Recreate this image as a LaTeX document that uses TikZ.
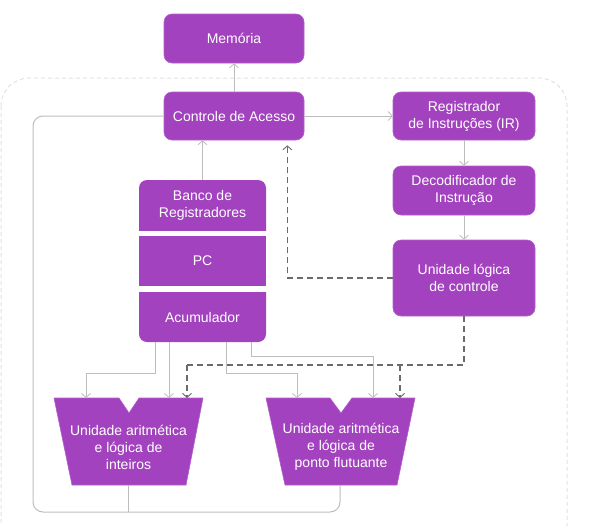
\documentclass[tikz,border=0pt]{standalone}
\usepackage{fontspec}
\setmainfont{Liberation Sans}
\usetikzlibrary{arrows.meta,calc}
\definecolor{boxpurple}{HTML}{A342BE}
\definecolor{boxedge}{HTML}{B25FCB}
\definecolor{gline}{HTML}{BDBDBD}
\definecolor{dline}{HTML}{6A6A6A}
\definecolor{frame}{HTML}{E2E2E2}
\begin{document}
\begin{tikzpicture}[x=1pt,y=-1pt,
  box/.style={draw=boxedge,line width=0.6pt,fill=boxpurple,rounded corners=8pt,text=white,align=center,
    font=\fontsize{14}{17}\selectfont,inner sep=0pt},
  plain/.style={text=white,align=center,font=\fontsize{14}{17}\selectfont,inner sep=0pt},
  gconn/.style={draw=gline,line width=1pt,-{Straight Barb[length=4pt,width=9pt,line width=0.8pt]}},
  gline/.style={draw=gline,line width=1pt},
  dconn/.style={draw=dline,line width=1.2pt,dash pattern=on 6pt off 4pt,-{Straight Barb[length=4pt,width=9pt,line width=0.9pt]}},
  dline/.style={draw=dline,line width=1.2pt,dash pattern=on 6pt off 4pt},
  alushape/.style={fill=boxpurple,draw=boxedge,line width=0.6pt}
]
\useasboundingbox (0,0) rectangle (596,525);
% outer dashed frame
\begin{scope}
\clip (0,0) rectangle (596,525);
\draw[frame,line width=1pt,dash pattern=on 4pt off 3pt,rounded corners=28pt] (1,78) rectangle (567,560);
\end{scope}

% boxes
\node[box,minimum width=140pt,minimum height=49pt] (mem) at (234,38.5) {Memória};
\node[box,minimum width=140pt,minimum height=48pt] (ctrl) at (234,116) {Controle de Acesso};
\node[box,minimum width=142pt,minimum height=48pt] (ir) at (464,116) {Registrador\\de Instruções (IR)};
\node[box,minimum width=142pt,minimum height=49pt] (dec) at (464,190.5) {Decodificador de\\Instrução};
\node[box,minimum width=142pt,minimum height=76pt] (ulc) at (464,278) {Unidade lógica\\de controle};

% register stack
\begin{scope}
\clip (130,170) rectangle (280,230);
\fill[boxpurple,rounded corners=8pt] (139,180) rectangle (266,245);
\end{scope}
\node[plain,minimum width=127pt,minimum height=50pt] (banco) at (202.5,205) {Banco de\\Registradores};
\fill[boxpurple] (139,236) rectangle (266,286);
\node[plain,minimum width=127pt,minimum height=50pt] (pc) at (202.5,261) {PC};
\begin{scope}
\clip (130,292) rectangle (280,350);
\fill[boxpurple,rounded corners=8pt] (139,280) rectangle (266,342);
\end{scope}
\node[plain,minimum width=127pt,minimum height=50pt] (acc) at (202.5,317) {Acumulador};

% ALUs
\fill[alushape] (54,398) -- (119,398) -- (129,413) -- (139,398) -- (203,398) -- (186,485) -- (72,485) -- cycle;
\node[plain] (alu1) at (128.5,447) {Unidade aritmética\\e lógica de\\inteiros};
\coordinate (alu1b) at (128,485);
\fill[alushape] (266,398) -- (330,398) -- (341,413) -- (352,398) -- (415,398) -- (397,485) -- (285,485) -- cycle;
\node[plain] (alu2) at (341,447) {Unidade aritmética\\e lógica de\\ponto flutuante};
\coordinate (alu2b) at (340,485);

% gray connectors
\draw[gconn] (ctrl.north) -- (mem.south);
\draw[gconn] (banco.north) -- (ctrl.south -| banco.north);
\draw[gconn] (ctrl.east) -- (ir.west);
\draw[gconn] (ir.south) -- (dec.north);
\draw[gconn] (dec.south) -- (ulc.north);

\draw[gconn] (155,342) |- (86,373) -- (86,398);
\draw[gconn] (169,342) -- (169,398);
\draw[gconn] (226,342) |- (297,373) -- (297,398);
\draw[gconn] (251,342) |- (373,356) -- (373,398);

% feedback from ALUs
\draw[gline,rounded corners=10pt] (alu2b) |- (33,512) |- (ctrl.west);
\draw[gline] (alu1b) -- (128,512);

% dashed control
\draw[dconn,shorten >=5pt] (ulc.west) -| ($(ctrl.south east)+(-17,0)$);
\draw[dline] (ulc.south) -- (464,365) -- (187,365);
\draw[dconn] (187,365) -- (187,398);
\draw[dconn] (400,365) -- (400,398);
\end{tikzpicture}
\end{document}
